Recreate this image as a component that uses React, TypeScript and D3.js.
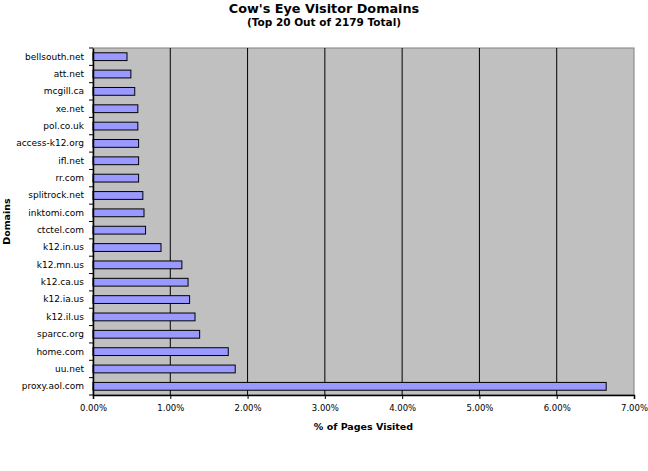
import React, { useRef, useEffect } from 'react';
import * as d3 from 'd3';

// domains, top of chart first
const domains: string[] = [
  'bellsouth.net', 'att.net', 'mcgill.ca', 'xe.net', 'pol.co.uk',
  'access-k12.org', 'ifl.net', 'rr.com', 'splitrock.net', 'inktomi.com',
  'ctctel.com', 'k12.in.us', 'k12.mn.us', 'k12.ca.us', 'k12.ia.us',
  'k12.il.us', 'sparcc.org', 'home.com', 'uu.net', 'proxy.aol.com',
];

// % of pages visited
const percentages: number[] = [
  0.44, 0.49, 0.54, 0.58, 0.58,
  0.59, 0.59, 0.59, 0.645, 0.66,
  0.68, 0.88, 1.15, 1.23, 1.25,
  1.32, 1.38, 1.75, 1.84, 6.64,
];

const xTicks: number[] = [0, 1, 2, 3, 4, 5, 6, 7];

const App: React.FC = () => {
  const svgRef = useRef<SVGSVGElement | null>(null);

  useEffect(() => {
    if (!svgRef.current) return;

    const width = 648;
    const height = 471;
    const margin = { top: 48, right: 14, bottom: 76, left: 93 };
    const font = '"DejaVu Sans", sans-serif';

    const x = d3.scaleLinear()
      .domain([0, 7])
      .range([margin.left, width - margin.right]);

    const y = d3.scaleBand()
      .domain(domains)
      .range([margin.top, height - margin.bottom])
      .paddingInner(0.55)
      .paddingOuter(0.275);

    const svg = d3.select(svgRef.current);
    svg.selectAll('*').remove();

    // plot background + grey frame
    svg.append('rect')
      .attr('x', margin.left)
      .attr('y', margin.top)
      .attr('width', x(7) - margin.left)
      .attr('height', height - margin.bottom - margin.top)
      .attr('fill', '#c0c0c0')
      .attr('stroke', '#808080')
      .attr('stroke-width', 1);

    // vertical gridlines
    svg.append('g')
      .selectAll('line')
      .data(xTicks.slice(1, -1))
      .join('line')
      .attr('x1', d => x(d))
      .attr('x2', d => x(d))
      .attr('y1', margin.top)
      .attr('y2', height - margin.bottom)
      .attr('stroke', '#000')
      .attr('stroke-width', 1);

    // bars
    svg.append('g')
      .selectAll('rect')
      .data(domains)
      .join('rect')
      .attr('x', x(0))
      .attr('y', d => y(d) as number)
      .attr('width', (d, i) => x(percentages[i]) - x(0))
      .attr('height', y.bandwidth())
      .attr('fill', '#9999ff')
      .attr('stroke', '#000')
      .attr('stroke-width', 1);

    // x axis
    const xAxis = svg.append('g')
      .attr('transform', `translate(0,${height - margin.bottom})`)
      .call(
        d3.axisBottom(x)
          .tickValues(xTicks)
          .tickSize(4)
          .tickPadding(6)
          .tickFormat(d => `${(d as number).toFixed(2)}%`)
      );
    xAxis.select('.domain').attr('stroke', '#000').attr('stroke-width', 1.5);
    xAxis.selectAll('text').attr('font-family', font).attr('font-size', 8.5).attr('fill', '#000');

    // y axis: labels at band centres, ticks between bands
    const yAxis = svg.append('g')
      .attr('transform', `translate(${margin.left},0)`)
      .call(d3.axisLeft(y).tickSize(0).tickPadding(9));
    yAxis.select('.domain').attr('stroke', '#000').attr('stroke-width', 1.5);
    yAxis.selectAll('text').attr('font-family', font).attr('font-size', 9).attr('fill', '#000');

    const step = y.step();
    const boundaries = d3.range(domains.length + 1).map(i => margin.top + i * step);
    svg.append('g')
      .selectAll('line')
      .data(boundaries)
      .join('line')
      .attr('x1', margin.left - 4)
      .attr('x2', margin.left)
      .attr('y1', d => d)
      .attr('y2', d => d)
      .attr('stroke', '#000')
      .attr('stroke-width', 1);

    // titles
    svg.append('text')
      .attr('x', width / 2)
      .attr('y', 13)
      .attr('text-anchor', 'middle')
      .attr('font-family', font)
      .attr('font-weight', 'bold')
      .attr('font-size', 12.8)
      .text("Cow's Eye Visitor Domains");

    svg.append('text')
      .attr('x', width / 2)
      .attr('y', 26)
      .attr('text-anchor', 'middle')
      .attr('font-family', font)
      .attr('font-weight', 'bold')
      .attr('font-size', 10.5)
      .text('(Top 20 Out of 2179 Total)');

    svg.append('text')
      .attr('x', (margin.left + x(7)) / 2)
      .attr('y', 430)
      .attr('text-anchor', 'middle')
      .attr('font-family', font)
      .attr('font-weight', 'bold')
      .attr('font-size', 9.5)
      .text('% of Pages Visited');

    svg.append('text')
      .attr('transform', `translate(10,${(margin.top + height - margin.bottom) / 2}) rotate(-90)`)
      .attr('text-anchor', 'middle')
      .attr('font-family', font)
      .attr('font-weight', 'bold')
      .attr('font-size', 9.5)
      .text('Domains');
  }, []);

  return (
    <svg
      ref={svgRef}
      width={648}
      height={471}
      style={{ position: 'absolute', left: 0, top: 0, background: '#fff' }}
    />
  );
};

export default App;
